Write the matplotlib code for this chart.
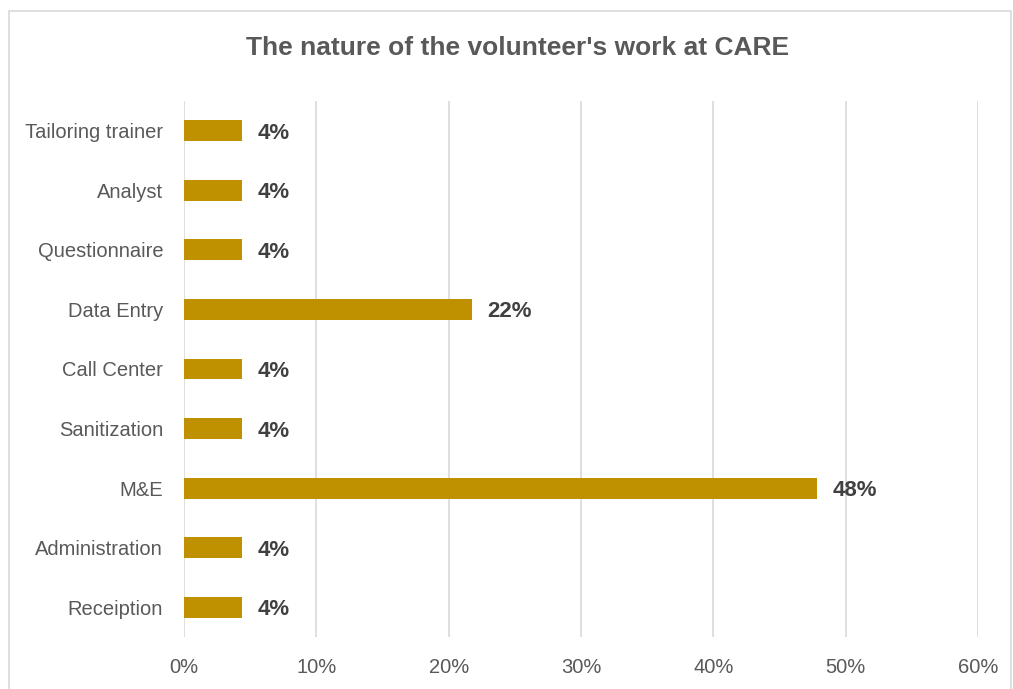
import matplotlib
matplotlib.use("Agg")
import matplotlib.pyplot as plt
from matplotlib import font_manager
from matplotlib.patches import Rectangle
from matplotlib.ticker import FuncFormatter

categories = ["Receiption", "Administration", "M&E", "Sanitization", "Call Center",
              "Data Entry", "Questionnaire", "Analyst", "Tailoring trainer"]
shares = [4.35, 4.35, 47.83, 4.35, 4.35, 21.74, 4.35, 4.35, 4.35]
x_ticks = [0, 10, 20, 30, 40, 50, 60]
title = "The nature of the volunteer's work at CARE"

names = {f.name for f in font_manager.fontManager.ttflist}
family = "Liberation Sans Narrow" if "Liberation Sans Narrow" in names else "Liberation Sans"
plt.rcParams["font.family"] = [family, "DejaVu Sans"]

bar_color = "#BF9000"
text_gray = "#595959"

fig = plt.figure(figsize=(10.13, 6.89), dpi=100)
fig.patches.append(Rectangle((9 / 1013, -0.01), 1002 / 1013, 1 - 11 / 689 + 0.01,
                             transform=fig.transFigure, fill=False,
                             edgecolor="#D9D9D9", linewidth=1.2))

ax = fig.add_axes([184 / 1013, 52 / 689, 794 / 1013, 536 / 689])
y = list(range(len(categories)))
ax.barh(y, shares, height=0.35, color=bar_color, zorder=3)
for yi, v in zip(y, shares):
    ax.text(v + 1.2, yi, f"{v:.0f}%", va="center_baseline", ha="left",
            fontsize=16, fontweight="bold", color="#404040")

ax.set_xlim(0, 60)
ax.set_ylim(-0.5, len(categories) - 0.5)
ax.set_yticks(y)
ax.set_yticklabels(categories)
ax.set_xticks(x_ticks)
ax.xaxis.set_major_formatter(FuncFormatter(lambda v, _: f"{v:.0f}%"))
ax.grid(axis="x", color="#D9D9D9", linewidth=1.2, zorder=0)
ax.tick_params(axis="both", length=0, labelsize=14.5, labelcolor=text_gray)
ax.tick_params(axis="x", pad=15)
ax.tick_params(axis="y", pad=15)
for s in ax.spines.values():
    s.set_visible(False)

fig.text(518 / 1013, 1 - 48 / 689, title, ha="center", va="center",
         fontsize=19, fontweight="bold", color=text_gray)

fig.savefig("out.png", dpi=100)
